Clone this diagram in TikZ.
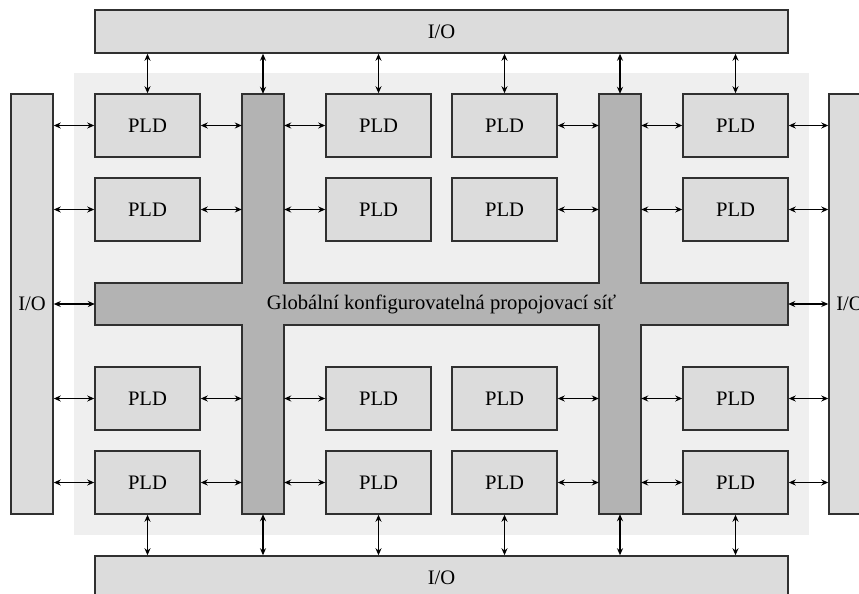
\documentclass[tikz,border=0pt]{standalone}
\usepackage{fontspec}
\setmainfont{Liberation Serif}
\usetikzlibrary{arrows.meta}
\definecolor{bgc}{HTML}{EFEFEF}
\definecolor{boxc}{HTML}{DCDCDC}
\definecolor{busc}{HTML}{B3B3B3}
\definecolor{edgec}{HTML}{303030}
\tikzset{
  blk/.style={draw=edgec, line width=1.5pt, fill=boxc, inner sep=0pt, font=\fontsize{20.6}{24}\selectfont},
  pld/.style={blk, minimum width=105pt, minimum height=63pt},
  anchorbox/.style={inner sep=0pt},
  arr/.style={{Stealth[length=7pt,width=6pt]}-{Stealth[length=7pt,width=6pt]}, line width=1.4pt, black},
}
\begin{document}
\begin{tikzpicture}[x=1pt,y=-1pt]
\useasboundingbox (0,0) rectangle (859,594);
\clip (0,0) rectangle (859,594);
% background
\fill[bgc] (74,73) rectangle (809,535);
% I/O blocks
\node[blk, minimum width=693pt, minimum height=43pt] (iotop) at (441.5,31.5) {I/O};
\node[blk, minimum width=693pt, minimum height=43pt] (iobot) at (441.5,577.5) {I/O};
\node[blk, minimum width=42pt, minimum height=420pt] (ioleft) at (32,304) {I/O};
\node[blk, minimum width=42pt, minimum height=420pt] (ioright) at (850,304) {I/O};
% bus (cross shape)
\draw[draw=edgec, line width=1.5pt, fill=busc]
  (95,283) -- (242,283) -- (242,94) -- (284,94) -- (284,283) -- (599,283) -- (599,94) -- (641,94)
  -- (641,283) -- (788,283) -- (788,325) -- (641,325) -- (641,514) -- (599,514) -- (599,325)
  -- (284,325) -- (284,514) -- (242,514) -- (242,325) -- (95,325) -- cycle;
\node[anchorbox, minimum width=42pt, minimum height=420pt] (busA) at (263,304) {};
\node[anchorbox, minimum width=42pt, minimum height=420pt] (busB) at (620,304) {};
\node[anchorbox, minimum width=693pt, minimum height=42pt, font=\fontsize{20.6}{24}\selectfont] (hbus) at (441.5,304) {Globální konfigurovatelná propojovací síť};
% PLDs
\foreach \r/\y in {1/125.5,2/209.5,3/398.5,4/482.5}{
  \foreach \c/\x in {1/147.5,2/378.5,3/504.5,4/735.5}{
    \node[pld] (p\r\c) at (\x,\y) {PLD};
  }
}
% horizontal arrows
\foreach \r in {1,2,3,4}{
  \draw[arr] (ioleft.east |- p\r1.west) -- (p\r1.west);
  \draw[arr] (p\r1.east) -- (busA.west |- p\r1.east);
  \draw[arr] (busA.east |- p\r2.west) -- (p\r2.west);
  \draw[arr] (p\r3.east) -- (busB.west |- p\r3.east);
  \draw[arr] (busB.east |- p\r4.west) -- (p\r4.west);
  \draw[arr] (p\r4.east) -- (ioright.west |- p\r4.east);
}
\draw[arr] (ioleft.east |- hbus.west) -- (hbus.west);
\draw[arr] (hbus.east) -- (ioright.west |- hbus.east);
% vertical arrows
\foreach \c in {1,2,3,4}{
  \draw[arr] (iotop.south -| p1\c.north) -- (p1\c.north);
  \draw[arr] (p4\c.south) -- (iobot.north -| p4\c.south);
}
\draw[arr] (iotop.south -| busA.north) -- (busA.north);
\draw[arr] (iotop.south -| busB.north) -- (busB.north);
\draw[arr] (busA.south) -- (iobot.north -| busA.south);
\draw[arr] (busB.south) -- (iobot.north -| busB.south);
\end{tikzpicture}
\end{document}
